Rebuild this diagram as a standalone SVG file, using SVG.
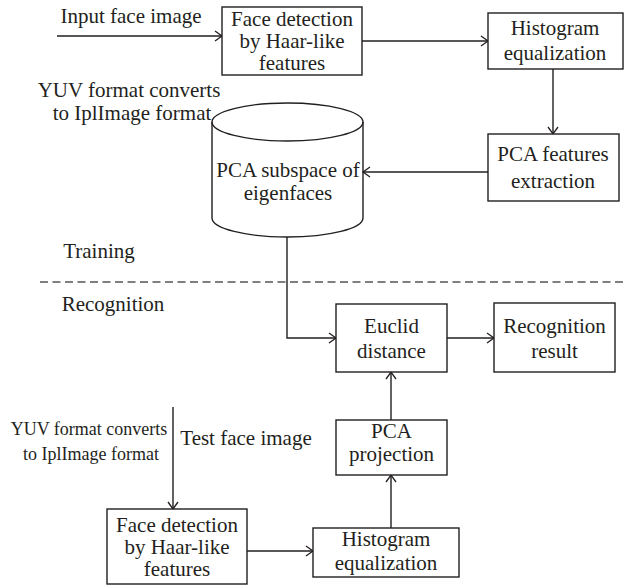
<svg xmlns="http://www.w3.org/2000/svg" width="624" height="586" viewBox="0 0 624 586">
<defs>
<marker id="arr" markerWidth="10" markerHeight="12" refX="8" refY="6" orient="auto" markerUnits="userSpaceOnUse">
<path d="M1,1 L8,6 L1,11" fill="none" stroke="#231f20" stroke-width="1.3"/>
</marker>
<style>
text{font-family:"Liberation Serif","Times New Roman",serif;font-size:21px;fill:#231f20;text-anchor:middle}
.s{font-size:18px}
.box{fill:#fff;stroke:#231f20;stroke-width:1.4}
.c{fill:none;stroke:#231f20;stroke-width:1.4}
.e{fill:none;stroke:#231f20;stroke-width:1.4;marker-end:url(#arr)}
</style>
</defs>
<rect width="624" height="586" fill="#fff"/>
<g id="connectors">
<line class="e" x1="57" y1="36" x2="222" y2="36"/>
<line class="e" x1="362" y1="41" x2="488" y2="41"/>
<line class="e" x1="553" y1="69" x2="553" y2="134"/>
<line class="e" x1="488" y1="172" x2="363" y2="172"/>
<polyline class="e" points="287,237 287,338 336,338"/>
<line class="e" x1="447" y1="338" x2="494" y2="338"/>
<line class="e" x1="391" y1="420" x2="391" y2="372"/>
<line class="e" x1="391" y1="528" x2="391" y2="475"/>
<line class="e" x1="173" y1="407" x2="173" y2="509"/>
<line class="e" x1="247" y1="551" x2="313" y2="551"/>
<line x1="40" y1="282" x2="624" y2="282" stroke="#555" stroke-width="1.3" stroke-dasharray="8,4.5"/>
</g>
<g id="labels">
<text x="131" y="23">Input face image</text>
<text x="129" y="97">YUV format converts</text>
<text x="132" y="120">to IplImage format</text>
<text x="99" y="258">Training</text>
<text x="113" y="311">Recognition</text>
<text x="246" y="445">Test face image</text>
<text class="s" x="89" y="435">YUV format converts</text>
<text class="s" x="91" y="460">to IplImage format</text>
</g>
<g id="face-detection-1">
<rect class="box" x="222" y="7" width="140" height="68"/>
<text x="292" y="25.5">Face detection</text>
<text x="292" y="47.5">by Haar-like</text>
<text x="292" y="69.5">features</text>
</g>
<g id="histogram-1">
<rect class="box" x="488" y="13" width="135" height="56"/>
<text x="555" y="35">Histogram</text>
<text x="555" y="60">equalization</text>
</g>
<g id="pca-features">
<rect class="box" x="488" y="134" width="131" height="67"/>
<text x="553" y="161">PCA features</text>
<text x="553" y="188">extraction</text>
</g>
<g id="pca-subspace">
<path class="c" d="M212,122 L212,218 A75.5,19 0 0 0 363,218 L363,122" fill="#fff"/>
<ellipse class="c" cx="287.5" cy="122" rx="75.5" ry="19"/>
<text x="288" y="177">PCA subspace of</text>
<text x="288" y="200">eigenfaces</text>
</g>
<g id="euclid">
<rect class="box" x="336" y="304" width="111" height="68"/>
<text x="391.5" y="333">Euclid</text>
<text x="391.5" y="358">distance</text>
</g>
<g id="recognition-result">
<rect class="box" x="494" y="303" width="121" height="69"/>
<text x="554.5" y="333">Recognition</text>
<text x="554.5" y="358">result</text>
</g>
<g id="pca-projection">
<rect class="box" x="336" y="420" width="111" height="55"/>
<text x="391.5" y="438">PCA</text>
<text x="391.5" y="461">projection</text>
</g>
<g id="histogram-2">
<rect class="box" x="313" y="528" width="146" height="49"/>
<text x="386" y="546">Histogram</text>
<text x="386" y="570">equalization</text>
</g>
<g id="face-detection-2">
<rect class="box" x="107" y="509" width="140" height="75"/>
<text x="177" y="532">Face detection</text>
<text x="177" y="554">by Haar-like</text>
<text x="177" y="576">features</text>
</g>
</svg>
